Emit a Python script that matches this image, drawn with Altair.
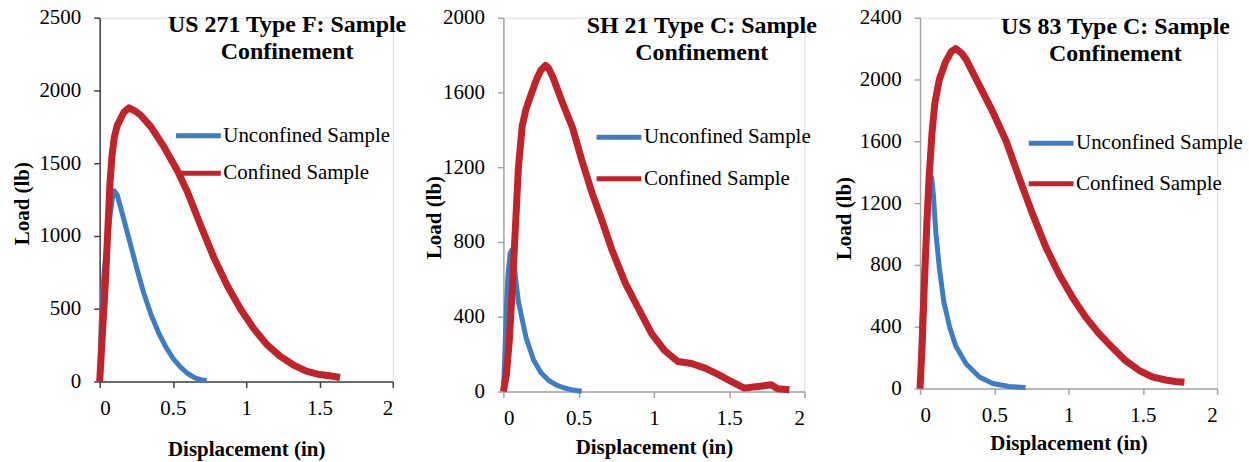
import altair as alt
import pandas as pd

# ---------------- data ----------------
series_names = ["Unconfined Sample", "Confined Sample"]
series_colors = ["#3c7dc4", "#c1232b"]

# Panel 1: US 271 Type F
p1_unconf_x = [0, 0.01, 0.03, 0.06, 0.085, 0.1, 0.12, 0.15, 0.2, 0.25, 0.3, 0.35, 0.4, 0.45, 0.5, 0.55, 0.6, 0.65, 0.7, 0.73]
p1_unconf_y = [0, 400, 750, 1050, 1250, 1310, 1280, 1170, 980, 790, 610, 460, 340, 240, 160, 100, 55, 25, 10, 5]
p1_conf_x = [0, 0.02, 0.04, 0.07, 0.085, 0.1, 0.12, 0.165, 0.2, 0.24, 0.28, 0.35, 0.44, 0.53, 0.6, 0.69, 0.78, 0.87, 0.96, 1.05, 1.14, 1.23, 1.32, 1.41, 1.5, 1.58, 1.64]
p1_conf_y = [0, 350, 700, 1360, 1560, 1680, 1760, 1850, 1880, 1860, 1830, 1750, 1610, 1450, 1300, 1070, 850, 660, 500, 365, 255, 175, 115, 72, 48, 38, 28]

# Panel 2: SH 21 Type C
p2_unconf_x = [0, 0.01, 0.02, 0.03, 0.045, 0.055, 0.07, 0.1, 0.15, 0.2, 0.25, 0.3, 0.35, 0.4, 0.45, 0.5, 0.52]
p2_unconf_y = [0, 200, 450, 620, 740, 755, 680, 480, 290, 170, 100, 60, 35, 20, 10, 3, 2]
p2_conf_x = [0, 0.02, 0.04, 0.06, 0.08, 0.1, 0.125, 0.15, 0.18, 0.22, 0.25, 0.28, 0.3, 0.33, 0.39, 0.46, 0.52, 0.59, 0.655, 0.72, 0.81, 0.9, 0.985, 1.07, 1.16, 1.25, 1.34, 1.43, 1.51, 1.6, 1.69, 1.78, 1.82, 1.9]
p2_conf_y = [0, 90, 280, 560, 880, 1200, 1420, 1510, 1580, 1670, 1720, 1745, 1730, 1680, 1550, 1410, 1240, 1060, 915, 760, 580, 440, 310, 220, 160, 150, 125, 90, 55, 18, 27, 36, 15, 9]

# Panel 3: US 83 Type C
p3_unconf_x = [0, 0.01, 0.03, 0.05, 0.065, 0.078, 0.09, 0.107, 0.13, 0.16, 0.2, 0.24, 0.31, 0.4, 0.49, 0.6, 0.71]
p3_unconf_y = [0, 400, 800, 1150, 1320, 1365, 1250, 1000, 780, 560, 395, 275, 160, 75, 32, 13, 6]
p3_conf_x = [0, 0.015, 0.03, 0.045, 0.06, 0.08, 0.1, 0.13, 0.17, 0.21, 0.24, 0.28, 0.31, 0.4, 0.49, 0.58, 0.667, 0.757, 0.847, 0.936, 1.026, 1.115, 1.205, 1.295, 1.384, 1.474, 1.563, 1.653, 1.72, 1.78]
p3_conf_y = [0, 300, 700, 1050, 1350, 1650, 1850, 2000, 2110, 2180, 2200, 2170, 2130, 1960, 1790, 1600, 1365, 1130, 915, 740, 590, 462, 355, 265, 180, 118, 75, 55, 45, 40]

titles = [
    ["US 271 Type F: Sample", "Confinement"],
    ["SH 21 Type C: Sample", "Confinement"],
    ["US 83 Type C: Sample", "Confinement"],
]
y_max = [2500, 2000, 2400]
y_step = [500, 400, 400]
x_ticks = [0, 0.5, 1, 1.5, 2]

FONT = "Liberation Serif"


def panel(ux, uy, cx, cy, title_lines, ymax, ystep, w, h, axis_color,
          title_x, title_y, ytitle_x, ytitle_y, xtitle_y,
          leg_x, leg_y, leg_row):
    df_u = pd.DataFrame({"x": ux, "y": uy, "series": series_names[0]})
    df_c = pd.DataFrame({"x": cx, "y": cy, "series": series_names[1]})

    xenc = alt.X("x:Q",
                 scale=alt.Scale(domain=[0, 2], nice=False),
                 axis=alt.Axis(values=x_ticks, format="~g", title="Displacement (in)",
                               grid=False, domainColor=axis_color, tickColor=axis_color,
                               domainWidth=1.5, tickWidth=1.5, tickSize=6,
                               labelFont=FONT, labelFontSize=21, labelColor="black",
                               labelPadding=10, titleFont=FONT, titleFontSize=21,
                               titleFontWeight="bold", titleColor="black",
                               titleBaseline="middle", titleY=xtitle_y, titleX=w / 2))
    yenc = alt.Y("y:Q",
                 scale=alt.Scale(domain=[0, ymax], nice=False),
                 axis=alt.Axis(values=list(range(0, ymax + 1, ystep)), format="d",
                               title="Load (lb)",
                               grid=False, domainColor=axis_color, tickColor=axis_color,
                               domainWidth=1.5, tickWidth=1.5, tickSize=6,
                               labelFont=FONT, labelFontSize=21, labelColor="black",
                               labelPadding=13, titleFont=FONT, titleFontSize=21,
                               titleFontWeight="bold", titleColor="black",
                               titleAngle=-90, titleAlign="center", titleBaseline="middle",
                               titleX=ytitle_x, titleY=ytitle_y))
    color = alt.Color("series:N",
                      scale=alt.Scale(domain=series_names, range=series_colors),
                      legend=alt.Legend(orient="none", legendX=leg_x, legendY=leg_y,
                                        title=None, symbolType="stroke", symbolSize=2025,
                                        symbolStrokeWidth=5, labelFont=FONT,
                                        labelFontSize=21, labelColor="black",
                                        labelLimit=0,
                                        rowPadding=leg_row, labelOffset=0, padding=0))

    blue = alt.Chart(df_u).mark_line(strokeWidth=5, strokeJoin="round").encode(
        x=xenc, y=yenc, color=color)
    red = alt.Chart(df_c).mark_line(strokeWidth=7, strokeJoin="round").encode(
        x=xenc, y=yenc, color=color)
    ttl = alt.Chart(pd.DataFrame({"k": [0]})).mark_text(
        text=title_lines, font=FONT, fontSize=24, fontWeight="bold",
        color="black", align="center", baseline="alphabetic", lineHeight=27
    ).encode(x=alt.value(title_x), y=alt.value(title_y))
    return alt.layer(blue, red, ttl).properties(width=w, height=h)


c1 = panel(p1_unconf_x, p1_unconf_y, p1_conf_x, p1_conf_y, titles[0], y_max[0], y_step[0],
           294, 365, "#404040", 188, 14, -77, 186, 68, 74, 93.5, 2.5)
c2 = panel(p2_unconf_x, p2_unconf_y, p2_conf_x, p2_conf_y, titles[1], y_max[1], y_step[1],
           302, 375, "#a6a6a6", 199, 15, -69.5, 200, 56, 91, 95, 6.5)
c3 = panel(p3_unconf_x, p3_unconf_y, p3_conf_x, p3_conf_y, titles[2], y_max[2], y_step[2],
           298, 372, "#a6a6a6", 196, 16, -75.5, 201, 55, 106.5, 101, 5.5)

chart = alt.hconcat(c1, c2, c3, spacing=15).resolve_scale(
    x="independent", y="independent", color="independent"
).resolve_legend(color="independent").properties(
    padding={"left": 11, "top": 5, "right": 5, "bottom": 0}
).configure_view(stroke=None).configure(font=FONT).configure_axis(
    labelFont=FONT, titleFont=FONT
).configure_legend(labelFont=FONT).configure_text(font=FONT)

chart.save("out.html", embed_options={"renderer": "svg", "actions": False})
